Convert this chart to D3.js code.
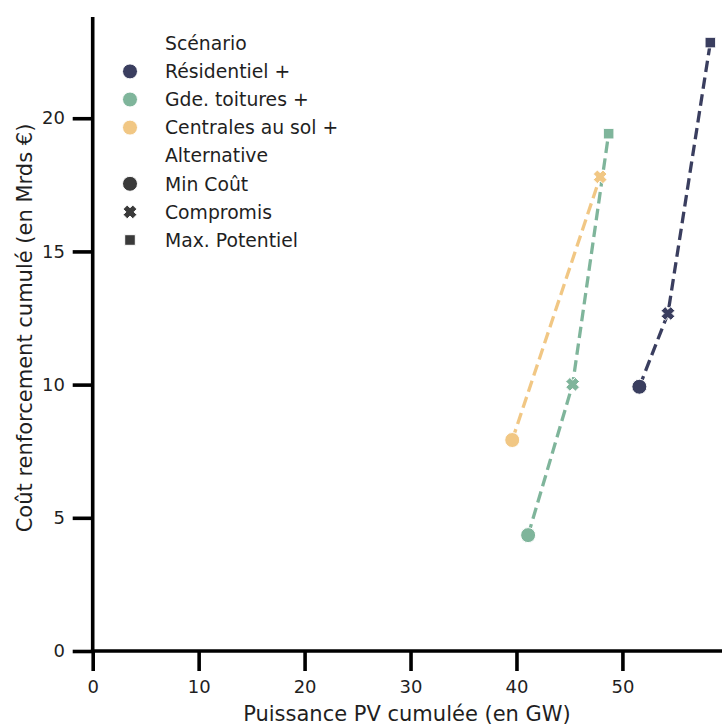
<!DOCTYPE html>
<html><head><meta charset="utf-8">
<script src="https://cdn.jsdelivr.net/npm/d3@7"></script>
<style>
html,body{margin:0;padding:0;background:#fff;}
text{font-family:"DejaVu Sans",sans-serif;fill:#1f1f1f;}
</style></head>
<body><svg id="c" width="722" height="726"></svg>
<script>
// ---- data ----
const scenarios = ["Résidentiel +", "Gde. toitures +", "Centrales au sol +"];
const scenarioColors = ["#3a3e5f", "#7fb59b", "#f1c784"];
const alternatives = ["Min Coût", "Compromis", "Max. Potentiel"];
const resX = [51.6, 54.3, 58.3];
const resY = [9.92, 12.67, 22.84];
const gdeX = [41.1, 45.3, 48.7];
const gdeY = [4.35, 10.01, 19.42];
const solX = [39.6, 47.9];
const solY = [7.92, 17.8];
const xTicks = [0, 10, 20, 30, 40, 50];
const yTicks = [0, 5, 10, 15, 20];
const xLabel = "Puissance PV cumulée (en GW)";
const yLabel = "Coût renforcement cumulé (en Mrds €)";

const series = [
  {name: scenarios[0], color: scenarioColors[0], xs: resX, ys: resY},
  {name: scenarios[1], color: scenarioColors[1], xs: gdeX, ys: gdeY},
  {name: scenarios[2], color: scenarioColors[2], xs: solX, ys: solY}
];

const svg = d3.select("#c");
const x = d3.scaleLinear().domain([0, 59.4]).range([92.7, 722]);
const y = d3.scaleLinear().domain([0, 23.8]).range([651, 17]);

// markers
const R = 7.5;
function markerPath(kind, s) {
  if (kind === 0) return d3.symbol().type(d3.symbolCircle).size(Math.PI * s * s)();
  if (kind === 2) { const h = s / Math.SQRT2; return `M${-h},${-h}H${h}V${h}H${-h}Z`; }
  // filled X
  const a = s * 0.95, w = s * 0.4;
  const pts = [[w,w],[a,w],[a,-w],[w,-w],[w,-a],[-w,-a],[-w,-w],[-a,-w],[-a,w],[-w,w],[-w,a],[w,a]];
  const c = Math.SQRT1_2;
  return "M" + pts.map(p => [(p[0]-p[1])*c, (p[0]+p[1])*c].map(v => v.toFixed(2)).join(",")).join("L") + "Z";
}

// axes
const gx = svg.append("g").attr("transform", "translate(0,651)")
  .call(d3.axisBottom(x).tickValues(xTicks).tickSize(20).tickSizeOuter(0).tickPadding(9.5));
const gy = svg.append("g").attr("transform", "translate(92.7,0)")
  .call(d3.axisLeft(y).tickValues(yTicks).tickSize(20).tickSizeOuter(0).tickPadding(7.7));
[gx, gy].forEach(g => {
  g.select(".domain").attr("stroke", "#000").attr("stroke-width", 3.6);
  g.selectAll(".tick line").attr("stroke", "#000").attr("stroke-width", 3.6);
  g.selectAll(".tick text").attr("font-size", 18).attr("font-family", "DejaVu Sans").attr("fill", "#1f1f1f");
});
gy.select(".domain").attr("d", `M0,${y(23.8)}V${651 + 1.8}`);
gx.select(".domain").attr("d", `M${92.7 - 1.8},0H722`);

svg.append("text").attr("x", 407).attr("y", 721)
  .attr("text-anchor", "middle").attr("font-size", 21).text(xLabel);
svg.append("text").attr("transform", `translate(32,328) rotate(-90)`)
  .attr("text-anchor", "middle").attr("font-size", 21).text(yLabel);

// lines
const line = d3.line().x(d => x(d[0])).y(d => y(d[1]));
series.forEach(s => {
  const pts = s.xs.map((v, i) => [v, s.ys[i]]);
  svg.append("path").attr("d", line(pts)).attr("fill", "none")
    .attr("stroke", s.color).attr("stroke-width", 3.3)
    .attr("stroke-dasharray", "11.5,5.5");
});
series.forEach(s => {
  s.xs.forEach((v, i) => {
    svg.append("path").attr("d", markerPath(i, i === 1 ? 7.2 : R))
      .attr("transform", `translate(${x(v)},${y(s.ys[i])})`)
      .attr("fill", s.color).attr("stroke", "#fff").attr("stroke-width", 1);
  });
});

// legend
const lg = svg.append("g");
const rows = [{t: "Scénario"}]
  .concat(scenarios.map((n, i) => ({t: n, color: scenarioColors[i], k: 0})))
  .concat([{t: "Alternative"}])
  .concat(alternatives.map((n, i) => ({t: n, color: "#3a3a3a", k: i})));
rows.forEach((r, i) => {
  const cy = 43.3 + i * 28.1;
  if (r.color) {
    lg.append("path").attr("d", markerPath(r.k, r.k === 1 ? 7.2 : R))
      .attr("transform", `translate(130,${cy})`).attr("fill", r.color)
      .attr("stroke", "#fff").attr("stroke-width", 1);
  }
  lg.append("text").attr("x", 165).attr("y", cy).attr("dy", "0.36em")
    .attr("font-size", 18.8).text(r.t);
});
</script></body></html>
